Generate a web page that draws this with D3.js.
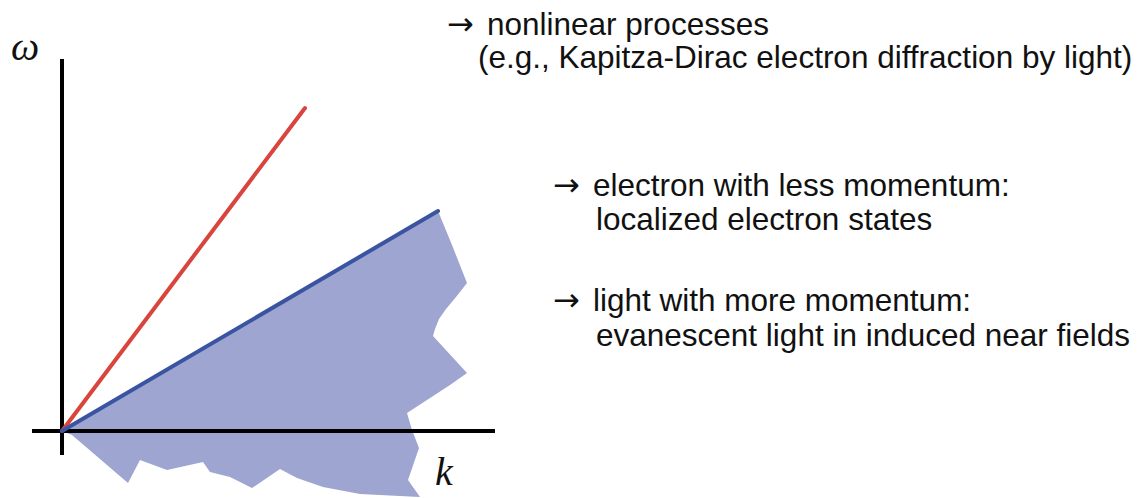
<!DOCTYPE html>
<html lang="en">
<head>
  <meta charset="UTF-8">
  <title>dispersion</title>
  <style>
    * { padding: 0; margin: 0; }
    html, body { width: 1145px; height: 498px; overflow: hidden; background: #fff; }
    .note { font-family: "Liberation Sans", Arial, sans-serif; font-size: 31.5px; fill: #111; }
    .arrow { font-family: "DejaVu Sans", sans-serif; font-size: 32px; fill: #111; }
    .sym { font-family: "Liberation Serif", "DejaVu Serif", serif; font-style: italic; fill: #111; }
  </style>
</head>
<body>
  <script src="https://cdn.jsdelivr.net/npm/d3@7/dist/d3.min.js"></script>
  <script>
    // axis extents in (k, omega) units
    const kAxis = [-7.5, 108.25]
    const wAxis = [-6, 93]
    // light line and electron line (end points from origin)
    const lightLine = [[0, 0], [60.75, 80.75]]
    const electronLine = [[0, 0], [94, 55]]
    // shaded region below electron line, torn edge
    const region = [
      [0, 0], [94, 55], [97.5, 46.5], [101.25, 37], [98.5, 33.5], [96, 30.5],
      [94.25, 28], [93.25, 25.5], [92.75, 23.75], [101.25, 14.5], [97, 11.5], [86.25, 4.5],
      [87.5, 0.25], [89.25, -4.25], [86.5, -12.25], [89.5, -16.5], [74.5, -15.75],
      [65.25, -14], [58.75, -11.75], [54.5, -9.5], [47.5, -14.25], [42, -11.5],
      [37, -10.25], [35.25, -7.75], [26.25, -9.75], [19.5, -7.25], [16.5, -13], [2.5, -1]
    ]
    const arrows = [
      { x: 447, y: 35 },
      { x: 553, y: 196 },
      { x: 553, y: 311 }
    ]
    const notes = [
      { text: 'nonlinear processes', x: 487, y: 35 },
      { text: '(e.g., Kapitza-Dirac electron diffraction by light)', x: 478, y: 68 },
      { text: 'electron with less momentum:', x: 593, y: 196 },
      { text: 'localized electron states', x: 596, y: 230 },
      { text: 'light with more momentum:', x: 593, y: 311 },
      { text: 'evanescent light in induced near fields', x: 596, y: 346 }
    ]

    const width = 1145, height = 498
    const svg = d3.select('body').append('svg').attr('width', width).attr('height', height)

    // 4px per unit, origin at (62, 431)
    const x = d3.scaleLinear().domain([0, 100]).range([62, 462])
    const y = d3.scaleLinear().domain([0, 100]).range([431, 31])
    const line = d3.line().x(d => x(d[0])).y(d => y(d[1]))

    svg.append('path').attr('d', line(region) + 'Z').attr('fill', '#9da5d0')

    // axes
    svg.append('line').attr('x1', x(kAxis[0])).attr('x2', x(kAxis[1])).attr('y1', y(0)).attr('y2', y(0))
      .attr('stroke', '#000').attr('stroke-width', 4)
    svg.append('line').attr('x1', x(0)).attr('x2', x(0)).attr('y1', y(wAxis[0])).attr('y2', y(wAxis[1]))
      .attr('stroke', '#000').attr('stroke-width', 4)

    svg.append('path').attr('d', line(lightLine)).attr('stroke', '#d9443c').attr('stroke-width', 4)
      .attr('stroke-linecap', 'round').attr('fill', 'none')
    svg.append('path').attr('d', line(electronLine)).attr('stroke', '#3b54a2').attr('stroke-width', 4)
      .attr('stroke-linecap', 'round').attr('fill', 'none')

    svg.append('text').attr('class', 'sym').attr('x', 11).attr('y', 60).style('font-size', '40px').text('\u03c9')
    svg.append('text').attr('class', 'sym').attr('x', 435).attr('y', 485).style('font-size', '40px').text('k')

    svg.selectAll('text.arrow').data(arrows).enter().append('text').attr('class', 'arrow')
      .attr('x', d => d.x).attr('y', d => d.y).text('\u2192')
    svg.selectAll('text.note').data(notes).enter().append('text').attr('class', 'note')
      .attr('x', d => d.x).attr('y', d => d.y).text(d => d.text)
  </script>
</body>
</html>
